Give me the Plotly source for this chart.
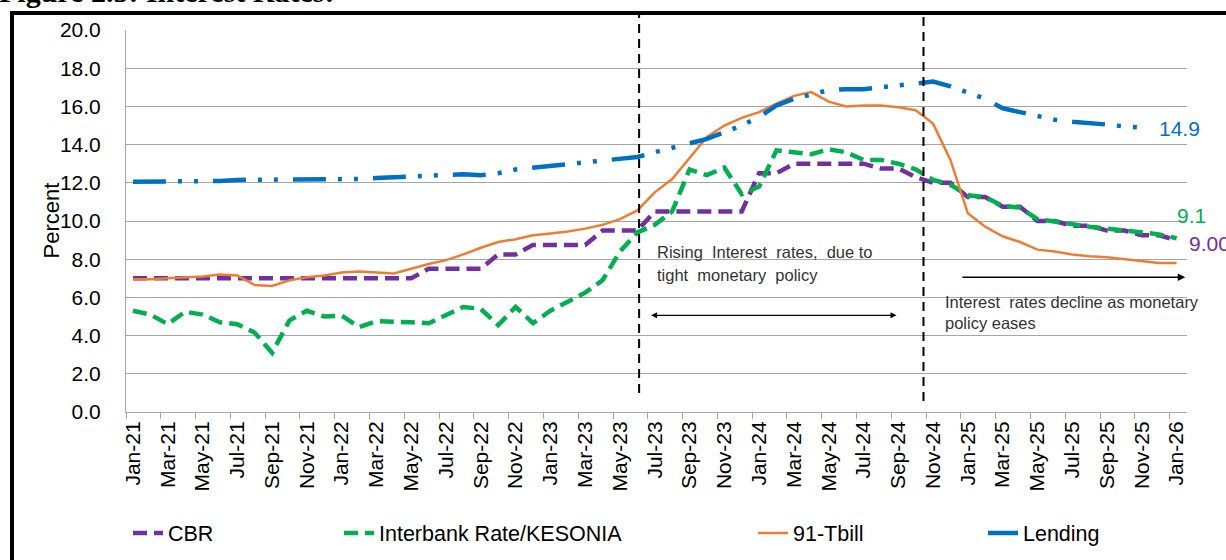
import plotly.graph_objects as go

# ---------------- data ----------------
tick_labels = ["Jan-21", "Mar-21", "May-21", "Jul-21", "Sep-21", "Nov-21",
               "Jan-22", "Mar-22", "May-22", "Jul-22", "Sep-22", "Nov-22",
               "Jan-23", "Mar-23", "May-23", "Jul-23", "Sep-23", "Nov-23",
               "Jan-24", "Mar-24", "May-24", "Jul-24", "Sep-24", "Nov-24",
               "Jan-25", "Mar-25", "May-25", "Jul-25", "Sep-25", "Nov-25",
               "Jan-26"]

cbr = [7.0, 7.0, 7.0, 7.0, 7.0, 7.0, 7.0, 7.0, 7.0, 7.0,
       7.0, 7.0, 7.0, 7.0, 7.0, 7.0, 7.0, 7.5, 7.5, 7.5,
       7.5, 8.25, 8.25, 8.75, 8.75, 8.75, 8.75, 9.5, 9.5, 9.5,
       10.5, 10.5, 10.5, 10.5, 10.5, 10.5, 12.5, 12.5, 13.0, 13.0,
       13.0, 13.0, 13.0, 12.75, 12.75, 12.3, 12.0, 12.0, 11.25, 11.25,
       10.75, 10.75, 10.0, 10.0, 9.75, 9.75, 9.5, 9.5, 9.25, 9.25,
       9.0]

interbank = [5.3, 5.1, 4.6, 5.25, 5.1, 4.7, 4.6, 4.15, 3.1, 4.8,
             5.3, 5.0, 5.05, 4.45, 4.75, 4.75, 4.7, 4.65, 5.05, 5.5,
             5.4, 4.55, 5.5, 4.65, 5.3, 5.8, 6.25, 6.9, 8.4, 9.4,
             9.8, 10.5, 12.7, 12.4, 12.8, 11.4, 11.8, 13.7, 13.6, 13.5,
             13.75, 13.6, 13.2, 13.2, 13.0, 12.7, 12.15, 11.9, 11.35, 11.25,
             10.8, 10.7, 10.1, 9.95, 9.8, 9.7, 9.6, 9.5, 9.4, 9.3,
             9.1]

tbill = [6.95, 6.95, 7.0, 7.05, 7.1, 7.2, 7.15, 6.65, 6.6, 6.9,
         7.05, 7.15, 7.3, 7.35, 7.3, 7.25, 7.5, 7.75, 7.95, 8.25,
         8.6, 8.9, 9.05, 9.25, 9.35, 9.45, 9.6, 9.8, 10.1, 10.55,
         11.5, 12.2, 13.3, 14.4, 15.0, 15.4, 15.7, 16.15, 16.55, 16.75,
         16.25, 16.0, 16.05, 16.05, 15.95, 15.8, 15.1, 13.2, 10.4, 9.7,
         9.2, 8.9, 8.5, 8.4, 8.25, 8.15, 8.1, 8.0, 7.9, 7.8,
         7.8]

lending = [12.05, 12.05, 12.05, 12.1, 12.1, 12.1, 12.15, 12.15, 12.15, 12.2,
           12.2, 12.2, 12.2, 12.2, 12.25, 12.3, 12.3, 12.35, 12.45, 12.45,
           12.4, 12.5, 12.7, 12.8, 12.85, 13.0, 13.05, 13.2, 13.3, 13.35,
           13.6, 13.85, 14.05, 14.3, 14.65, 15.0, 15.45, 16.05, 16.4, 16.65,
           16.85, 16.9, 16.9, 17.0, 17.1, 17.25, 17.3, 17.05, 16.7, 16.4,
           15.9, 15.7, 15.5, 15.3, 15.2, 15.15, 15.05, 14.95, 14.9, None,
           None]

months = list(range(len(cbr)))
tick_positions = list(range(0, len(cbr), 2))

end_labels = ["14.9", "9.1", "9.00", "7.8"]

# ---------------- styling ----------------
FONT = "Liberation Sans, Arial, sans-serif"
PURPLE = "#7030a0"
GREEN = "#00b050"
ORANGE = "#ed7d31"
BLUE = "#0070c0"
GRID = "#a6a6a6"
TICK_SIZE = 21
LEG_SIZE = 21.5

fig = go.Figure()

fig.add_trace(go.Scatter(x=months, y=cbr, mode="lines", name="CBR",
                         line=dict(color=PURPLE, width=4.5, dash="14px,7px"),
                         legend="legend"))
fig.add_trace(go.Scatter(x=months, y=interbank, mode="lines",
                         name="Interbank Rate/KESONIA",
                         line=dict(color=GREEN, width=4.5, dash="14px,7px"),
                         legend="legend2"))
fig.add_trace(go.Scatter(x=months, y=tbill, mode="lines", name="91-Tbill",
                         line=dict(color=ORANGE, width=2.5),
                         legend="legend3"))
fig.add_trace(go.Scatter(x=months, y=lending, mode="lines", name="Lending",
                         line=dict(color=BLUE, width=4.5,
                                   dash="33px,12px,4px,12px,4px,15px"),
                         legend="legend4"))

L, R, T, B = 126, 39, 30, 148
W, H = 1226, 560
PW, PH = W - L - R, H - T - B


def px_x(px):
    return (px - L) / PW


def px_y(py):
    return (H - B - py) / PH


def cx(px):
    return px / W


def cy(py):
    return 1 - py / H


leg_common = dict(orientation="h", yanchor="middle", xanchor="left",
                  xref="container", yref="container",
                  bgcolor="rgba(0,0,0,0)", borderwidth=0,
                  font=dict(family=FONT, size=LEG_SIZE, color="#000000"))

fig.update_layout(
    width=W, height=H,
    margin=dict(l=L, r=R, t=T, b=B, autoexpand=False),
    paper_bgcolor="white", plot_bgcolor="white",
    font=dict(family=FONT, size=TICK_SIZE, color="#000000"),
    showlegend=True,
    legend=dict(x=cx(128), y=cy(533), **leg_common),
    legend2=dict(x=cx(339), y=cy(533), **leg_common),
    legend3=dict(x=cx(753), y=cy(533), **leg_common),
    legend4=dict(x=cx(983), y=cy(533), **leg_common),
    xaxis=dict(range=[-0.4, 60.6], tickmode="array", tickvals=tick_positions,
               ticktext=tick_labels, tickangle=-90, ticks="",
               showgrid=False, showline=True, linecolor=GRID, linewidth=1,
               zeroline=False, automargin=False,
               tickfont=dict(family=FONT, size=TICK_SIZE),
               minor=dict(tickmode="linear", tick0=-0.4, dtick=2,
                          ticks="outside", ticklen=6, tickcolor=GRID,
                          showgrid=False)),
    yaxis=dict(range=[0, 20], dtick=2, tickformat=".1f", showgrid=True,
               gridcolor=GRID, gridwidth=1, showline=True, linecolor=GRID,
               linewidth=1, zeroline=False, ticks="", automargin=False,
               ticklabelstandoff=20, tickfont=dict(family=FONT, size=TICK_SIZE)),
)

# y-axis title
fig.add_annotation(xref="paper", yref="paper", x=px_x(36), y=0.5,
                   text="Percent", textangle=-90, showarrow=False,
                   font=dict(family=FONT, size=22, color="#000000"))

# cut-off figure title at top
fig.add_annotation(xref="paper", yref="paper", x=px_x(-3), y=px_y(10),
                   xanchor="left", yanchor="bottom",
                   text="<b>Figure 2.5: Interest Rates:</b>", showarrow=False,
                   font=dict(family="Liberation Serif, Times New Roman, serif",
                             size=30, color="#000000"))

# outer frame
fig.add_shape(type="rect", xref="paper", yref="paper",
              x0=px_x(12), x1=px_x(1240), y0=px_y(575), y1=px_y(13),
              line=dict(color="#000000", width=4), fillcolor="rgba(0,0,0,0)",
              layer="above")

# vertical dashed policy lines
for xm, ybot in [(29.1, 393), (45.45, 401)]:
    fig.add_shape(type="line", xref="x", yref="paper", x0=xm, x1=xm,
                  y0=px_y(ybot), y1=px_y(13),
                  line=dict(color="#000000", width=2, dash="9px,6px"))

# arrows
fig.add_annotation(xref="x", yref="y", axref="x", ayref="y",
                   x=43.9, y=5.06, ax=29.7, ay=5.06, text="",
                   showarrow=True, arrowhead=2, startarrowhead=2,
                   arrowside="end+start", arrowsize=1, startarrowsize=1,
                   arrowwidth=1.2, arrowcolor="#000000")
fig.add_annotation(xref="x", yref="y", axref="x", ayref="y",
                   x=60.5, y=7.05, ax=47.6, ay=7.05, text="",
                   showarrow=True, arrowhead=2, arrowsize=1,
                   arrowwidth=1.5, arrowcolor="#000000")

note_font = dict(family=FONT, size=16.5, color="#333333")
NB = "\u00a0"
notes = [
    (30.0, 8.36, f"Rising{NB} Interest{NB} rates,{NB} due to"),
    (30.0, 7.16, f"tight{NB} monetary{NB} policy"),
    (46.55, 5.74, f"Interest{NB} rates decline as monetary"),
    (46.55, 4.65, "policy eases"),
]
for xn, yn, txt in notes:
    fig.add_annotation(xref="x", yref="y", x=xn, y=yn, text=txt,
                       xanchor="left", yanchor="middle", showarrow=False,
                       font=note_font)

# end value labels
end_pos = [(58.85, 14.85, BLUE), (59.9, 10.3, GREEN),
           (60.6, 8.83, PURPLE), (60.65, 7.42, "#c55a11")]
for (xl, yl, col), lab in zip(end_pos, end_labels):
    fig.add_annotation(xref="x", yref="y", x=xl, y=yl, text=lab,
                       xanchor="left", yanchor="middle", showarrow=False,
                       font=dict(family=FONT, size=21, color=col))

fig.write_html(
    "out.html",
    config={"displayModeBar": False},
    post_script="document.body.style.margin='0';"
                "document.body.style.overflow='hidden';",
)
